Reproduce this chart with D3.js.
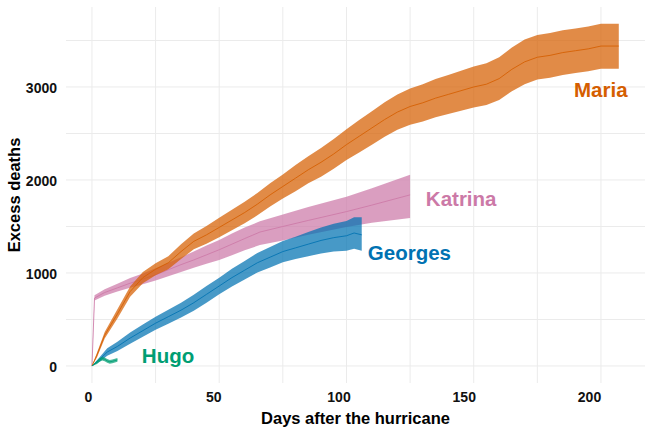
<!DOCTYPE html>
<html>
<head>
<meta charset="utf-8">
<script src="https://cdn.jsdelivr.net/npm/d3@7"></script>
<style>
	body { margin: 0; background: #fff; }
	text { font-family: "Liberation Sans", Arial, sans-serif; font-weight: bold; }
</style>
</head>
<body>
<script>
// values, days after landfall and excess deaths
const mariaDays = [0, 2, 5, 10, 15, 20, 25, 30, 35, 40, 45, 50, 55, 60, 65, 70, 75, 80, 85, 90, 95, 100, 105, 110, 115, 120, 125, 130, 135, 140, 145, 150, 155, 160, 165, 170, 175, 180, 185, 190, 195, 200, 207];
const mariaMean = [0, 120, 330, 560, 800, 950, 1040, 1110, 1230, 1340, 1410, 1490, 1570, 1650, 1740, 1840, 1930, 2020, 2110, 2190, 2280, 2380, 2470, 2560, 2650, 2730, 2790, 2830, 2880, 2920, 2960, 3000, 3030, 3090, 3190, 3270, 3320, 3340, 3370, 3390, 3410, 3440, 3440];
const mariaLow = [0, 95, 295, 510, 745, 890, 975, 1040, 1150, 1255, 1315, 1385, 1460, 1535, 1620, 1715, 1800, 1880, 1965, 2035, 2120, 2215, 2295, 2380, 2465, 2540, 2595, 2630, 2675, 2710, 2745, 2780, 2805, 2860, 2955, 3030, 3080, 3100, 3130, 3150, 3170, 3195, 3195];
const mariaHigh = [0, 145, 365, 610, 855, 1010, 1105, 1180, 1310, 1425, 1505, 1595, 1680, 1765, 1860, 1965, 2060, 2160, 2255, 2345, 2440, 2545, 2645, 2740, 2835, 2920, 2985, 3030, 3085, 3130, 3175, 3220, 3255, 3320, 3425, 3510, 3560, 3580, 3610, 3630, 3650, 3680, 3680];

const georgesDays = [0, 3, 6, 10, 15, 20, 25, 30, 35, 40, 45, 50, 55, 60, 65, 70, 75, 80, 85, 90, 95, 100, 103, 106];
const georgesMean = [0, 70, 150, 210, 300, 380, 460, 530, 600, 680, 770, 860, 950, 1030, 1110, 1170, 1230, 1270, 1310, 1350, 1380, 1400, 1430, 1410];
const georgesLow = [0, 45, 110, 160, 240, 315, 390, 455, 520, 595, 680, 770, 855, 930, 1005, 1060, 1115, 1150, 1180, 1210, 1230, 1240, 1260, 1240];
const georgesHigh = [0, 95, 190, 260, 360, 445, 530, 605, 680, 765, 860, 950, 1045, 1130, 1215, 1280, 1345, 1390, 1440, 1490, 1530, 1560, 1600, 1600];

const katrinaDays = [0, 1, 5, 10, 15, 20, 25, 30, 35, 40, 45, 50, 55, 60, 66, 75, 85, 100, 110, 125];
const katrinaMean = [0, 730, 790, 840, 890, 935, 980, 1035, 1090, 1140, 1195, 1250, 1310, 1370, 1440, 1500, 1565, 1660, 1730, 1840];
const katrinaLow = [0, 705, 755, 800, 840, 880, 920, 965, 1010, 1055, 1100, 1140, 1190, 1245, 1300, 1350, 1410, 1495, 1540, 1590];
const katrinaHigh = [0, 760, 825, 885, 945, 995, 1050, 1110, 1170, 1230, 1295, 1355, 1425, 1490, 1555, 1630, 1710, 1820, 1910, 2055];

const hugoDays = [0, 2, 3, 4, 5, 6, 7, 8, 9, 10];
const hugoMean = [0, 40, 65, 80, 72, 55, 45, 50, 58, 65];
const hugoLow = [0, 20, 45, 60, 52, 35, 25, 30, 38, 45];
const hugoHigh = [0, 60, 85, 100, 92, 75, 65, 70, 78, 85];

// drawing order, label anchors (day, deaths) and colours
const names = ["Katrina", "Georges", "Maria", "Hugo"];
const labelDays = [131.2, 108.4, 189.4, 19.6];
const labelDeaths = [1720, 1140, 2892, 32];
const colors = ["#CC79A7", "#0072B2", "#D55E00", "#009E73"];

const xTicks = [0, 50, 100, 150, 200];
const yTicks = [0, 1000, 2000, 3000];
const xGrid = [0, 25, 50, 75, 100, 125, 150, 175, 200];
const yGrid = [0, 500, 1000, 1500, 2000, 2500, 3000, 3500];

function makeSeries(days, mean, low, high) {
	return days.map((d, i) => {
		return {day: d, mean: mean[i], low: low[i], high: high[i]};
	});
}

const series = [
	makeSeries(katrinaDays, katrinaMean, katrinaLow, katrinaHigh),
	makeSeries(georgesDays, georgesMean, georgesLow, georgesHigh),
	makeSeries(mariaDays, mariaMean, mariaLow, mariaHigh),
	makeSeries(hugoDays, hugoMean, hugoLow, hugoHigh)
];

function constructChart() {
	const width = 650,
	height = 433;

	const left = 66, right = 645, top = 7, bottom = 383;

	const svg = d3.select("body")
		.append("svg")
		.attr("width", width)
		.attr("height", height);

	const x = d3.scaleLinear().domain([-10.2, 217.3]).range([left, right]);
	const y = d3.scaleLinear().domain([-183, 3860]).range([bottom, top]);
	// the tick labels sit a little left of their grid lines in the picture
	const xLab = d3.scaleLinear().domain([0, 200]).range([88, 589]);

	svg.append("g")
		.attr("class", "grid")
		.selectAll("line.v")
		.data(xGrid)
		.enter()
		.append("line")
		.attr("x1", d => x(d))
		.attr("x2", d => x(d))
		.attr("y1", top)
		.attr("y2", bottom)
		.attr("stroke", "#ebebeb")
		.attr("stroke-width", 1);

	svg.append("g")
		.attr("class", "grid")
		.selectAll("line.h")
		.data(yGrid)
		.enter()
		.append("line")
		.attr("x1", left)
		.attr("x2", right)
		.attr("y1", d => y(d))
		.attr("y2", d => y(d))
		.attr("stroke", "#ebebeb")
		.attr("stroke-width", 1);

	const area = d3.area()
		.x(d => x(d.day))
		.y0(d => y(d.low))
		.y1(d => y(d.high));

	const line = d3.line()
		.x(d => x(d.day))
		.y(d => y(d.mean));

	series.forEach((s, i) => {
		svg.append("path")
			.attr("class", "band")
			.attr("d", area(s))
			.attr("fill", colors[i])
			.attr("fill-opacity", 0.72);

		svg.append("path")
			.attr("class", "line")
			.attr("d", line(s))
			.attr("fill", "none")
			.attr("stroke", colors[i])
			.attr("stroke-opacity", 0.85)
			.attr("stroke-width", 1);
	});

	names.forEach((n, i) => {
		svg.append("text")
			.attr("x", x(labelDays[i]))
			.attr("y", y(labelDeaths[i]))
			.attr("fill", colors[i])
			.style("font-size", "20.5px")
			.text(n);
	});

	const xAxis = d3.axisBottom(xLab).tickValues(xTicks).tickSize(0).tickPadding(0).tickFormat(d3.format("d"));
	const yAxis = d3.axisLeft(y).tickValues(yTicks).tickSize(0).tickPadding(0).tickFormat(d3.format("d"));

	const gx = svg.append("g")
		.attr("class", "x-axis")
		.attr("transform", "translate(0,392)")
		.call(xAxis);

	const gy = svg.append("g")
		.attr("class", "y-axis")
		.attr("transform", "translate(57,0)")
		.call(yAxis);

	gx.select(".domain").remove();
	gy.select(".domain").remove();

	svg.selectAll(".x-axis text, .y-axis text")
		.attr("fill", "#111")
		.style("font-size", "14px")
		.style("font-family", "'Liberation Sans', Arial, sans-serif")
		.style("font-weight", "bold");

	gy.selectAll("text").attr("dy", "0.42em");

	svg.append("text")
		.attr("x", (left + right) / 2)
		.attr("y", 424)
		.attr("text-anchor", "middle")
		.attr("fill", "#000")
		.style("font-size", "16.5px")
		.text("Days after the hurricane");

	svg.append("text")
		.attr("transform", "translate(20," + ((top + bottom) / 2) + ") rotate(-90)")
		.attr("text-anchor", "middle")
		.attr("fill", "#000")
		.style("font-size", "16.5px")
		.text("Excess deaths");
}

constructChart();
</script>
</body>
</html>
